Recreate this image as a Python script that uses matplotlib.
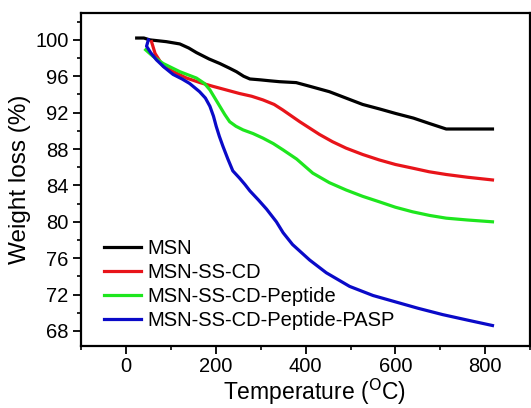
import matplotlib
matplotlib.use("Agg")
import matplotlib.pyplot as plt
from matplotlib.ticker import MultipleLocator

plt.rcParams['font.family'] = ['Liberation Sans', 'DejaVu Sans']

msn_x = [24, 40, 53, 90, 120, 140, 157, 185, 209, 230, 246, 262, 276, 300, 320, 342, 379, 409, 453, 490, 527, 565, 601, 640, 676, 713, 760, 816]
msn_y = [100.2, 100.2, 100.0, 99.8, 99.55, 99.1, 98.6, 97.9, 97.4, 96.9, 96.5, 96.0, 95.7, 95.6, 95.5, 95.4, 95.3, 94.9, 94.3, 93.6, 92.9, 92.4, 91.9, 91.4, 90.8, 90.2, 90.2, 90.2]

cd_x = [57, 65, 83, 110, 135, 165, 193, 223, 253, 280, 305, 330, 349, 387, 409, 431, 460, 490, 527, 564, 600, 638, 675, 713, 760, 816]
cd_y = [99.8, 98.5, 97.1, 96.4, 95.8, 95.3, 94.9, 94.5, 94.1, 93.8, 93.4, 92.9, 92.3, 91.0, 90.3, 89.6, 88.8, 88.1, 87.4, 86.8, 86.3, 85.9, 85.5, 85.2, 84.9, 84.6]

pep_x = [44, 60, 83, 120, 157, 175, 187, 198, 209, 220, 231, 245, 261, 283, 305, 328, 350, 380, 416, 453, 490, 527, 564, 600, 638, 676, 713, 760, 816]
pep_y = [98.9, 98.2, 97.4, 96.5, 95.8, 95.2, 94.5, 93.6, 92.7, 91.8, 91.0, 90.5, 90.1, 89.7, 89.2, 88.6, 87.9, 86.9, 85.35, 84.3, 83.5, 82.8, 82.2, 81.6, 81.1, 80.7, 80.4, 80.2, 80.0]

pasp_x = [50, 46, 55, 68, 85, 105, 125, 142, 164, 177, 187, 195, 201, 208, 216, 227, 238, 253, 265, 276, 295, 313, 335, 350, 371, 409, 446, 498, 550, 600, 650, 705, 760, 816]
pasp_y = [100.0, 99.3, 98.6, 97.8, 97.0, 96.2, 95.7, 95.2, 94.3, 93.6, 92.7, 91.6, 90.5, 89.4, 88.3, 86.9, 85.6, 84.8, 84.1, 83.4, 82.4, 81.4, 80.0, 78.8, 77.5, 75.8, 74.4, 72.9, 71.9, 71.2, 70.5, 69.8, 69.2, 68.6]

labels = ['MSN', 'MSN-SS-CD', 'MSN-SS-CD-Peptide', 'MSN-SS-CD-Peptide-PASP']
colors = ['#000000', '#e8141a', '#1ee61e', '#0a0ac8']

fig = plt.figure(figsize=(5.31, 4.08), dpi=100)
ax = fig.add_axes([0.1525, 0.152, 0.846, 0.815])

for xs, ys, lab, c in zip([msn_x, cd_x, pep_x, pasp_x], [msn_y, cd_y, pep_y, pasp_y], labels, colors):
    ax.plot(xs, ys, color=c, lw=2.3, label=lab, solid_joinstyle='round')

ax.set_xlim(-100, 900)
ax.set_ylim(66.35, 102.9)
ax.set_xticks([0, 200, 400, 600, 800])
ax.set_yticks([68, 72, 76, 80, 84, 88, 92, 96, 100])
ax.xaxis.set_minor_locator(MultipleLocator(100))
ax.yaxis.set_minor_locator(MultipleLocator(2))
ax.tick_params(which='major', direction='out', length=6, width=1.3, labelsize=14.5, top=False, right=False, pad=3)
ax.tick_params(axis='x', which='major', pad=2)
ax.tick_params(which='minor', direction='out', length=3, width=1.2, top=False, right=False)
for s in ax.spines.values():
    s.set_linewidth(1.6)

fig.text(0.593, 0.003, 'Temperature ($^{\\rm O}$C)', fontsize=16.5, ha='center', va='bottom')
ax.set_ylabel('Weight loss (%)', fontsize=17.5, labelpad=3)

ax.legend(loc='lower left', frameon=False, fontsize=14.5, handlelength=1.85, handletextpad=0.3,
          labelspacing=0.25, borderaxespad=0.3, bbox_to_anchor=(0.02, 0.006))

fig.savefig('out.png', dpi=100)
